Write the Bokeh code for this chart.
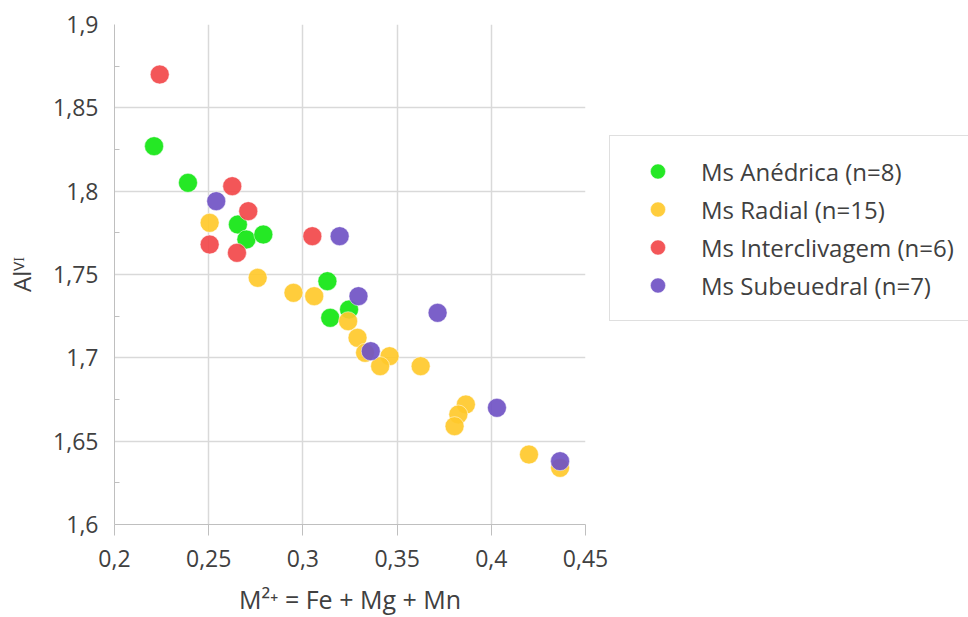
from bokeh.plotting import figure
from bokeh.models import (Range1d, FixedTicker, CustomJSTickFormatter,
                          Legend, LegendItem)
from bokeh.embed import file_html
from bokeh.resources import INLINE

# ---- data ----
green_x = [0.221, 0.239, 0.2655, 0.270, 0.279, 0.313, 0.3245, 0.3145]
green_y = [1.827, 1.805, 1.780, 1.771, 1.774, 1.746, 1.729, 1.724]

yellow_x = [0.2505, 0.276, 0.295, 0.306, 0.324, 0.329, 0.333, 0.346, 0.341,
            0.3625, 0.3865, 0.3825, 0.3805, 0.420, 0.4365]
yellow_y = [1.781, 1.748, 1.739, 1.737, 1.722, 1.712, 1.703, 1.701, 1.695,
            1.695, 1.672, 1.666, 1.659, 1.642, 1.634]

red_x = [0.224, 0.2625, 0.271, 0.2505, 0.265, 0.305]
red_y = [1.870, 1.803, 1.788, 1.768, 1.763, 1.773]

purple_x = [0.254, 0.3195, 0.3295, 0.336, 0.3715, 0.403, 0.4365]
purple_y = [1.794, 1.773, 1.737, 1.704, 1.727, 1.670, 1.638]

series_names = ["Ms Anédrica (n=8)", "Ms Radial (n=15)",
                "Ms Interclivagem (n=6)", "Ms Subeuedral (n=7)"]
series_colors = ["#12E612", "#FFC92B", "#F2484A", "#7052C4"]

x_ticks = [0.2, 0.25, 0.3, 0.35, 0.4, 0.45]
y_ticks = [1.6, 1.65, 1.7, 1.75, 1.8, 1.85, 1.9]
y_minor_ticks = [1.625, 1.675, 1.725, 1.775, 1.825, 1.875]

x_label = "M²⁺ = Fe + Mg + Mn"
y_label = "Alⱽᴵ"

FONT = "Open Sans"
TXT = "#404040"
GRID = "#D9D9D9"
AXIS = "#BFBFBF"

p = figure(frame_width=471, frame_height=500,
           output_backend="svg", toolbar_location=None,
           x_range=Range1d(0.2, 0.45), y_range=Range1d(1.6, 1.9),
           min_border_left=114, min_border_right=0,
           min_border_top=24, min_border_bottom=93)
p.outline_line_color = None
p.background_fill_color = "white"
p.border_fill_color = "white"

fmt = CustomJSTickFormatter(code="""
    let s = tick.toFixed(2);
    if (s.endsWith('0')) s = s.slice(0, -1);
    return s.replace('.', ',');
""")

# x axis
xa = p.xaxis[0]
xa.ticker = FixedTicker(ticks=x_ticks)
xa.formatter = fmt
xa.axis_line_color = AXIS
xa.major_tick_line_color = AXIS
xa.major_tick_out = 11
xa.major_tick_in = 0
xa.minor_tick_line_color = None
xa.major_label_text_font = FONT
xa.major_label_text_font_size = "23px"
xa.major_label_text_color = TXT
xa.major_label_standoff = 14
xa.axis_label = x_label
xa.axis_label_text_font = FONT
xa.axis_label_text_font_size = "25px"
xa.axis_label_text_font_style = "normal"
xa.axis_label_text_color = TXT
xa.axis_label_standoff = 12

# y axis
ya = p.yaxis[0]
ya.ticker = FixedTicker(ticks=y_ticks, minor_ticks=y_minor_ticks)
ya.formatter = fmt
ya.axis_line_color = AXIS
ya.major_tick_line_color = None
ya.major_tick_out = 0
ya.major_tick_in = 0
ya.minor_tick_line_color = AXIS
ya.minor_tick_in = 5
ya.minor_tick_out = 0
ya.major_label_text_font = FONT
ya.major_label_text_font_size = "23px"
ya.major_label_text_color = TXT
ya.major_label_standoff = 16
ya.axis_label = y_label
ya.axis_label_text_font = FONT
ya.axis_label_text_font_size = "24px"
ya.axis_label_text_font_style = "normal"
ya.axis_label_text_color = TXT
ya.axis_label_standoff = 12

p.xgrid.grid_line_color = GRID
p.ygrid.grid_line_color = GRID
p.xgrid.grid_line_width = 1.5
p.ygrid.grid_line_width = 1.5

renderers = []
for xs, ys, col in [(green_x, green_y, series_colors[0]),
                    (yellow_x, yellow_y, series_colors[1]),
                    (red_x, red_y, series_colors[2]),
                    (purple_x, purple_y, series_colors[3])]:
    r = p.scatter(xs, ys, size=19, fill_color=col, fill_alpha=0.92,
                  line_color="white", line_alpha=0.5, line_width=1)
    renderers.append(r)

legend = Legend(items=[LegendItem(label=n, renderers=[r])
                       for n, r in zip(series_names, renderers)],
                location=(24, 203))
legend.padding = 16
legend.margin = 0
legend.spacing = 0
legend.glyph_width = 63
legend.glyph_height = 38
legend.label_height = 38
legend.label_width = 251
legend.label_standoff = 12
legend.label_text_font = FONT
legend.label_text_font_size = "24px"
legend.label_text_color = TXT
legend.label_text_baseline = "middle"
legend.border_line_color = AXIS
legend.border_line_width = 1
legend.background_fill_color = "white"
legend.background_fill_alpha = 1
p.add_layout(legend, "right")

open("out.html", "w").write(file_html(p, INLINE))
